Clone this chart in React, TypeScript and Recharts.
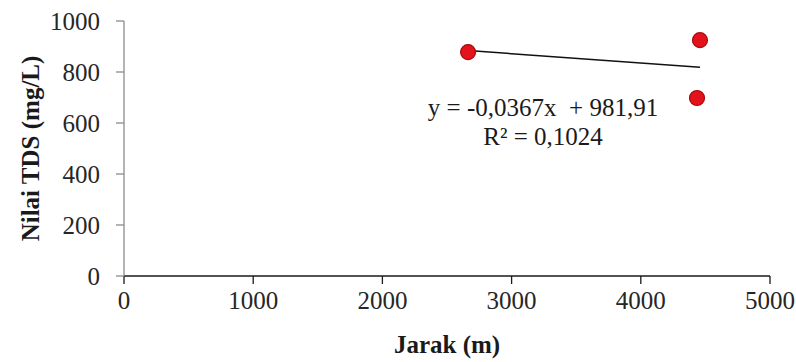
import {
  ComposedChart,
  Scatter,
  Line,
  XAxis,
  YAxis,
  Label,
} from "recharts";

// Jarak (m) vs TDS (mg/L) sampling points
const JARAK = [2663, 4458, 4435];
const TDS = [878, 925, 698];

const X_TICKS = [0, 1000, 2000, 3000, 4000, 5000];
const Y_TICKS = [0, 200, 400, 600, 800, 1000];

// linear trend as reported by the fit
const SLOPE = -0.0367;
const INTERCEPT = 981.91;
const EQUATION = "y = -0,0367x \u00a0+ 981,91";
const R_SQUARED = "R² = 0,1024";

const points = JARAK.map((x, i) => ({ x, y: TDS[i] }));
const xMin = Math.min(...JARAK);
const xMax = Math.max(...JARAK);
const trend = [xMin, xMax].map((x) => ({ x, y: SLOPE * x + INTERCEPT }));

const FONT = '"Liberation Serif", "Times New Roman", serif';
const FS = 25;
const tickStyle = { fontSize: FS, fill: "#262626", fontFamily: FONT };

function RedDot(props: any) {
  const { cx, cy } = props;
  return <circle cx={cx} cy={cy} r={7.5} fill="#e3121b" stroke="#a80a0f" strokeWidth={1.2} />;
}

export default function App() {
  return (
    <div style={{ width: 796, height: 362, background: "#fff" }}>
      <style>{`body{margin:0}`}</style>
      <ComposedChart
        width={796}
        height={362}
        margin={{ top: 21, right: 26, bottom: 0, left: 0 }}
        style={{ fontFamily: FONT }}
      >
        <XAxis
          type="number"
          dataKey="x"
          domain={[0, 5000]}
          ticks={X_TICKS}
          height={86}
          tick={tickStyle}
          tickSize={8}
          tickMargin={7}
          axisLine={{ stroke: "#1a1a1a", strokeWidth: 1.3 }}
          tickLine={{ stroke: "#1a1a1a", strokeWidth: 1.3 }}
          allowDataOverflow
        >
          <Label
            content={({ viewBox }: any) => (
              <text
                x={viewBox.x + viewBox.width / 2}
                y={viewBox.y + 77}
                textAnchor="middle"
                fontSize={FS}
                fontWeight="bold"
                fontFamily={FONT}
                fill="#1a1a1a"
              >
                Jarak (m)
              </text>
            )}
          />
        </XAxis>
        <YAxis
          type="number"
          dataKey="y"
          domain={[0, 1000]}
          ticks={Y_TICKS}
          width={124}
          tick={tickStyle}
          tickSize={8}
          tickMargin={16}
          axisLine={{ stroke: "#8c8c8c", strokeWidth: 1.3 }}
          tickLine={{ stroke: "#8c8c8c", strokeWidth: 1.3 }}
          allowDataOverflow
        >
          <Label
            content={({ viewBox }: any) => {
              const cx = 30;
              const cy = viewBox.y + viewBox.height / 2;
              return (
                <text
                  x={cx}
                  y={cy}
                  transform={`rotate(-90 ${cx} ${cy})`}
                  textAnchor="middle"
                  dominantBaseline="central"
                  fontSize={FS}
                  fontWeight="bold"
                  fontFamily={FONT}
                  fill="#1a1a1a"
                >
                  Nilai TDS (mg/L)
                </text>
              );
            }}
          />
        </YAxis>
        <Line
          data={trend}
          dataKey="y"
          type="linear"
          stroke="#111"
          strokeWidth={1.5}
          dot={false}
          activeDot={false}
          isAnimationActive={false}
        />
        <Scatter data={points} dataKey="y" shape={<RedDot />} isAnimationActive={false} />
        <text x={543} y={116} textAnchor="middle" fontSize={FS} fontFamily={FONT} fill="#1a1a1a">
          {EQUATION}
        </text>
        <text x={543} y={145} textAnchor="middle" fontSize={FS} fontFamily={FONT} fill="#1a1a1a">
          {R_SQUARED}
        </text>
      </ComposedChart>
    </div>
  );
}
